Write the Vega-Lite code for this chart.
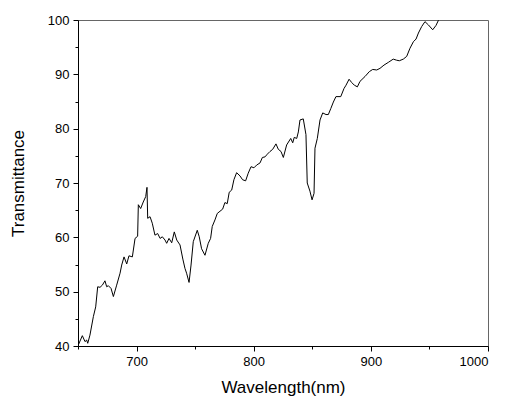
{
  "$schema": "https://vega.github.io/schema/vega-lite/v6.json",
  "width": 410,
  "height": 326,
  "autosize": {"type": "none"},
  "padding": {"left": 78, "top": 20, "right": 17, "bottom": 51},
  "background": "white",
  "config": {"view": {"stroke": "#666666", "strokeWidth": 1}, "font": "Liberation Sans"},
  "data": {"values": [
    {"w": 650.3, "t": 40.2}, {"w": 653.7, "t": 41.9}, {"w": 656, "t": 40.8}, {"w": 657.4, "t": 41.1}, {"w": 658.3, "t": 40.5},
    {"w": 660.2, "t": 42.0}, {"w": 663.1, "t": 45.4}, {"w": 665.1, "t": 47.2}, {"w": 666.8, "t": 50.9}, {"w": 668.8, "t": 50.8},
    {"w": 670.8, "t": 51.2}, {"w": 673, "t": 52.0}, {"w": 674.5, "t": 50.9}, {"w": 675.9, "t": 51.1}, {"w": 678.2, "t": 50.6},
    {"w": 680.2, "t": 49.1}, {"w": 683, "t": 51.2}, {"w": 685.9, "t": 53.4}, {"w": 687.3, "t": 54.9}, {"w": 689.3, "t": 56.4},
    {"w": 691.6, "t": 55.1}, {"w": 693.5, "t": 56.6}, {"w": 696.4, "t": 56.4}, {"w": 698.7, "t": 59.8}, {"w": 700.9, "t": 60.2},
    {"w": 701.5, "t": 66.0}, {"w": 703.5, "t": 65.3}, {"w": 705.7, "t": 66.5}, {"w": 707.8, "t": 67.5}, {"w": 708.9, "t": 69.2},
    {"w": 709.5, "t": 63.5}, {"w": 711.5, "t": 63.8}, {"w": 713.4, "t": 62.6}, {"w": 715.7, "t": 60.4}, {"w": 718, "t": 60.7},
    {"w": 720.1, "t": 59.8}, {"w": 722, "t": 60.1}, {"w": 724.3, "t": 59.5}, {"w": 725.7, "t": 58.9}, {"w": 727.7, "t": 59.8},
    {"w": 730, "t": 59.0}, {"w": 732.2, "t": 61.0}, {"w": 734.3, "t": 59.5}, {"w": 737.1, "t": 58.6}, {"w": 739.5, "t": 56.0},
    {"w": 741.3, "t": 54.3}, {"w": 742.7, "t": 53.4}, {"w": 744.8, "t": 51.7}, {"w": 746.5, "t": 54.9}, {"w": 748.4, "t": 59.2},
    {"w": 751.8, "t": 61.3}, {"w": 753.5, "t": 60.1}, {"w": 755.5, "t": 57.9}, {"w": 758.4, "t": 56.7}, {"w": 761.2, "t": 58.9},
    {"w": 763.2, "t": 59.8}, {"w": 764.6, "t": 62.0}, {"w": 766.9, "t": 63.2}, {"w": 768.9, "t": 64.4}, {"w": 771.2, "t": 64.8},
    {"w": 773.5, "t": 65.2}, {"w": 775.4, "t": 66.4}, {"w": 777.4, "t": 66.2}, {"w": 779.1, "t": 68.3}, {"w": 781.2, "t": 68.7},
    {"w": 783.1, "t": 70.6}, {"w": 785.4, "t": 71.9}, {"w": 788.3, "t": 71.3}, {"w": 790.5, "t": 70.6}, {"w": 793.1, "t": 70.4},
    {"w": 795.3, "t": 71.8}, {"w": 797.7, "t": 73.0}, {"w": 800.2, "t": 72.8}, {"w": 802.5, "t": 73.3}, {"w": 805.4, "t": 73.7},
    {"w": 807.4, "t": 74.7}, {"w": 809.6, "t": 74.8}, {"w": 811.6, "t": 75.3}, {"w": 813.9, "t": 75.8}, {"w": 816.2, "t": 76.2},
    {"w": 819, "t": 77.2}, {"w": 821, "t": 76.2}, {"w": 823.3, "t": 75.8}, {"w": 825.3, "t": 74.7}, {"w": 828.1, "t": 77.0},
    {"w": 831.6, "t": 78.2}, {"w": 833.3, "t": 77.4}, {"w": 834.6, "t": 78.4}, {"w": 836.7, "t": 78.2}, {"w": 838.1, "t": 79.4},
    {"w": 839.5, "t": 81.6}, {"w": 842.3, "t": 81.8}, {"w": 844.6, "t": 78.9}, {"w": 845.7, "t": 70.0}, {"w": 848, "t": 68.5},
    {"w": 849.8, "t": 66.9}, {"w": 851.5, "t": 68.1}, {"w": 852.3, "t": 76.4}, {"w": 854.3, "t": 78.2}, {"w": 856.6, "t": 81.6},
    {"w": 858.9, "t": 82.9}, {"w": 861.7, "t": 82.6}, {"w": 863.7, "t": 82.6}, {"w": 865.8, "t": 83.7}, {"w": 868, "t": 84.9},
    {"w": 870.2, "t": 85.9}, {"w": 874.3, "t": 85.9}, {"w": 877.1, "t": 87.4}, {"w": 878.8, "t": 88.0}, {"w": 881.4, "t": 89.1},
    {"w": 883.6, "t": 88.5}, {"w": 885.9, "t": 88.0}, {"w": 888.5, "t": 87.7}, {"w": 890.7, "t": 88.7}, {"w": 895, "t": 89.6},
    {"w": 898.7, "t": 90.5}, {"w": 901.6, "t": 90.9}, {"w": 905, "t": 90.8}, {"w": 907.8, "t": 91.1}, {"w": 911.2, "t": 91.7},
    {"w": 914.9, "t": 92.2}, {"w": 919.1, "t": 92.8}, {"w": 922, "t": 92.6}, {"w": 924.3, "t": 92.5}, {"w": 927.7, "t": 92.8},
    {"w": 930.6, "t": 93.3}, {"w": 933.4, "t": 94.8}, {"w": 936.3, "t": 96.0}, {"w": 938.6, "t": 96.5}, {"w": 940.6, "t": 97.6},
    {"w": 943.4, "t": 98.8}, {"w": 946.2, "t": 99.7}, {"w": 949.1, "t": 99.1}, {"w": 952.8, "t": 98.2}, {"w": 955.6, "t": 99.0},
    {"w": 957.6, "t": 99.9}, {"w": 959, "t": 100.3}
  ]},
  "mark": {"type": "line", "color": "black", "strokeWidth": 1, "clip": true},
  "encoding": {
    "x": {
      "field": "w", "type": "quantitative",
      "scale": {"domain": [650, 1000], "nice": false, "zero": false},
      "axis": {
        "title": "Wavelength(nm)", "format": "d",
        "values": [650, 700, 750, 800, 850, 900, 950, 1000],
        "labelExpr": "datum.value % 100 === 0 ? datum.label : ''",
        "grid": false, "domainColor": "black", "tickColor": "black",
        "tickSize": {"condition": {"test": "datum.value % 100 === 0", "value": 5}, "value": 3},
        "labelFontSize": 13, "labelColor": "black", "labelPadding": 4,
        "titleFontSize": 17, "titleFontWeight": "normal", "titleColor": "black", "titlePadding": 11
      }
    },
    "y": {
      "field": "t", "type": "quantitative",
      "scale": {"domain": [40, 100], "nice": false, "zero": false},
      "axis": {
        "title": "Transmittance",
        "values": [40, 45, 50, 55, 60, 65, 70, 75, 80, 85, 90, 95, 100],
        "labelExpr": "datum.value % 10 === 0 ? datum.label : ''",
        "grid": false, "domainColor": "black", "tickColor": "black",
        "tickSize": {"condition": {"test": "datum.value % 10 === 0", "value": 5}, "value": 3},
        "labelFontSize": 13, "labelColor": "black", "labelPadding": 4,
        "titleFontSize": 17, "titleFontWeight": "normal", "titleColor": "black", "titlePadding": 20
      }
    }
  }
}
